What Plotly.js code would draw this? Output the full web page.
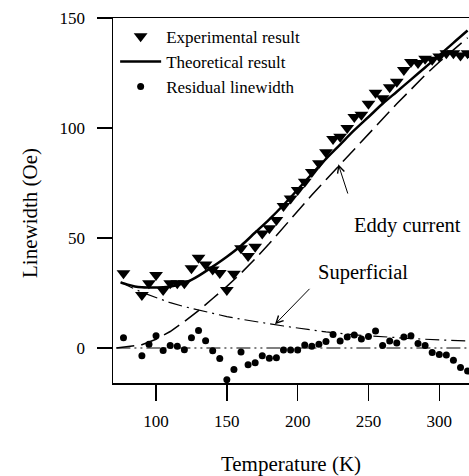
<!DOCTYPE html>
<html>
<head>
<meta charset="utf-8">
<script src="https://cdn.plot.ly/plotly-3.0.1.min.js"></script>
<style>html,body{margin:0;padding:0;background:#fff;}#chart{width:469px;height:476px;}</style>
</head>
<body>
<div id="chart"></div>
<script>
// Experimental result (triangles)
const expT = [77,90,95,100,105,110,115,120,125,130,135,140,145,150,155,160,165,170,175,180,185,190,195,200,205,210,215,220,225,230,235,240,245,250,255,260,265,270,275,280,285,290,295,300,305,310,315,320];
const expW = [34,24.1,29.4,33.2,26.4,29.4,29.4,29.4,36.2,41,38,35.7,34.1,26.4,33.8,45.3,41.8,46,52.1,54.4,58.2,64.5,68,71.8,75.6,80,84,89,95,96,100,105,106,111,116,113.5,118.5,121,126.4,130,129.5,131.5,131,132.5,134,134,133,134];
// Residual linewidth (dots)
const resT = expT;
const resW = [4.7,-3.5,1.7,5.6,-1.1,1.2,0.8,-0.8,4.7,8.0,3.3,-1.2,-4.8,-14.4,-9.8,-1.8,-7.6,-6.7,-3.5,-4.7,-4.4,-0.9,-0.9,-0.9,1.4,0.8,1.7,3,6.1,3.2,5,5.9,4.1,5.2,7.7,1.1,3.2,2.3,5,5.6,2,1.1,-2,-2.9,-3.2,-5.6,-8.9,-10.5];
// Theoretical result (solid)
const theoT = [75,80,85,90,95,100,105,110,115,120,125,130,140,150,160,170,180,190,200,210,220,230,240,250,260,270,280,290,300,310,320];
const theoW = [29.8,28.8,28,27.6,27.5,27.5,27.6,28,28.6,29.6,31,32.8,37,41.5,46.5,52.5,58.5,65,72,79,86,92.5,99,105,111,116.5,122,127.5,133,138.7,144.3];
// Eddy current (dashed)
const eddyT = [72,75,80,90,100,110,120,130,140,150,160,170,180,190,200,210,220,230,240,250,260,270,280,290,300,310,320];
const eddyW = [0,0.2,0.5,1.5,4,7.5,12,17,22.5,28,34,40.5,47.5,55,62.5,69.5,76.5,83.5,90.5,97.5,104.5,111,117.5,124,130,135.5,141];
// Superficial (dash-dot)
const supT = [75,80,90,100,110,120,130,140,150,160,170,180,190,200,220,240,260,280,300,320];
const supW = [30,28.3,25.3,22.8,20.6,18.8,17.2,15.7,14.3,13.1,12,11,10,9.1,7.3,6.0,5.0,4.3,3.7,3.2];
// Zero reference line
const zeroT = [72,321];
const zeroW = [0,0];
const xTicks = [100,150,200,250,300];
const yTicks = [0,50,100,150];

const serif = 'Liberation Serif, Times New Roman, serif';
const traces = [
  {x: eddyT, y: eddyW, mode:'lines', line:{color:'black', width:1.5, dash:'18px,7px'}, showlegend:false, hoverinfo:'skip'},
  {x: supT, y: supW, mode:'lines', line:{color:'black', width:1.2, dash:'14px,5px,2px,5px'}, showlegend:false, hoverinfo:'skip'},
  {x: zeroT, y: zeroW, mode:'lines', line:{color:'black', width:1.2, dash:'14px,4px,2px,4px,2px,4px'}, showlegend:false, hoverinfo:'skip'},
  {x: expT, y: expW, mode:'markers', name:'Experimental result', marker:{symbol:'triangle-down', size:12, color:'black'}},
  {x: theoT, y: theoW, mode:'lines', name:'Theoretical result', line:{color:'black', width:2.5, shape:'spline'}},
  {x: resT, y: resW, mode:'markers', name:'Residual linewidth', marker:{symbol:'circle', size:7, color:'black'}}
];

const layout = {
  width:469, height:476,
  margin:{l:113, r:0, t:18, b:93},
  paper_bgcolor:'white', plot_bgcolor:'white',
  font:{family:serif, color:'black', size:17},
  showlegend:true,
  legend:{x:0.006, y:0.998, xanchor:'left', yanchor:'top', bgcolor:'rgba(0,0,0,0)', font:{family:serif, size:17, color:'black'}, itemwidth:41, tracegroupgap:0},
  xaxis:{range:[69.6,321], tickvals:xTicks, ticktext:xTicks.map(String), ticks:'outside', ticklen:16, tickwidth:1.5, tickcolor:'black',
         showline:true, linecolor:'black', linewidth:1.5, mirror:true, showgrid:false, zeroline:false,
         ticklabelstandoff:6, tickfont:{family:serif, size:17, color:'black'},
         title:{text:'Temperature (K)', font:{family:serif, size:21, color:'black'}, standoff:27}},
  yaxis:{range:[-15.9,150], tickvals:yTicks, ticktext:yTicks.map(String), ticks:'outside', ticklen:15, tickwidth:1.5, tickcolor:'black',
         showline:true, linecolor:'black', linewidth:1.5, mirror:false, showgrid:false, zeroline:false,
         ticklabelstandoff:8, tickfont:{family:serif, size:17, color:'black'}},
  annotations:[
    {x:-0.233, y:0.466, xref:'paper', yref:'paper', text:'Linewidth (Oe)', textangle:-90, showarrow:false, xanchor:'center', yanchor:'middle', font:{family:serif, size:21, color:'black'}},
    {x:277.9, y:55.9, xref:'x', yref:'y', text:'Eddy current', showarrow:false, font:{family:serif, size:20.5, color:'black'}},
    {x:228.7, y:83.5, xref:'x', yref:'y', text:' ', showarrow:true, ax:13, ay:40, arrowhead:5, arrowsize:1.4, arrowwidth:1, arrowcolor:'black', standoff:0, startstandoff:0},
    {x:246.1, y:34.1, xref:'x', yref:'y', text:'Superficial', showarrow:false, font:{family:serif, size:20.5, color:'black'}},
    {x:184, y:10.8, xref:'x', yref:'y', text:' ', showarrow:true, ax:38, ay:-39, arrowhead:5, arrowsize:1.4, arrowwidth:1, arrowcolor:'black', standoff:0, startstandoff:0}
  ]
};
Plotly.newPlot('chart', traces, layout, {displayModeBar:false, staticPlot:true});
</script>
</body>
</html>
